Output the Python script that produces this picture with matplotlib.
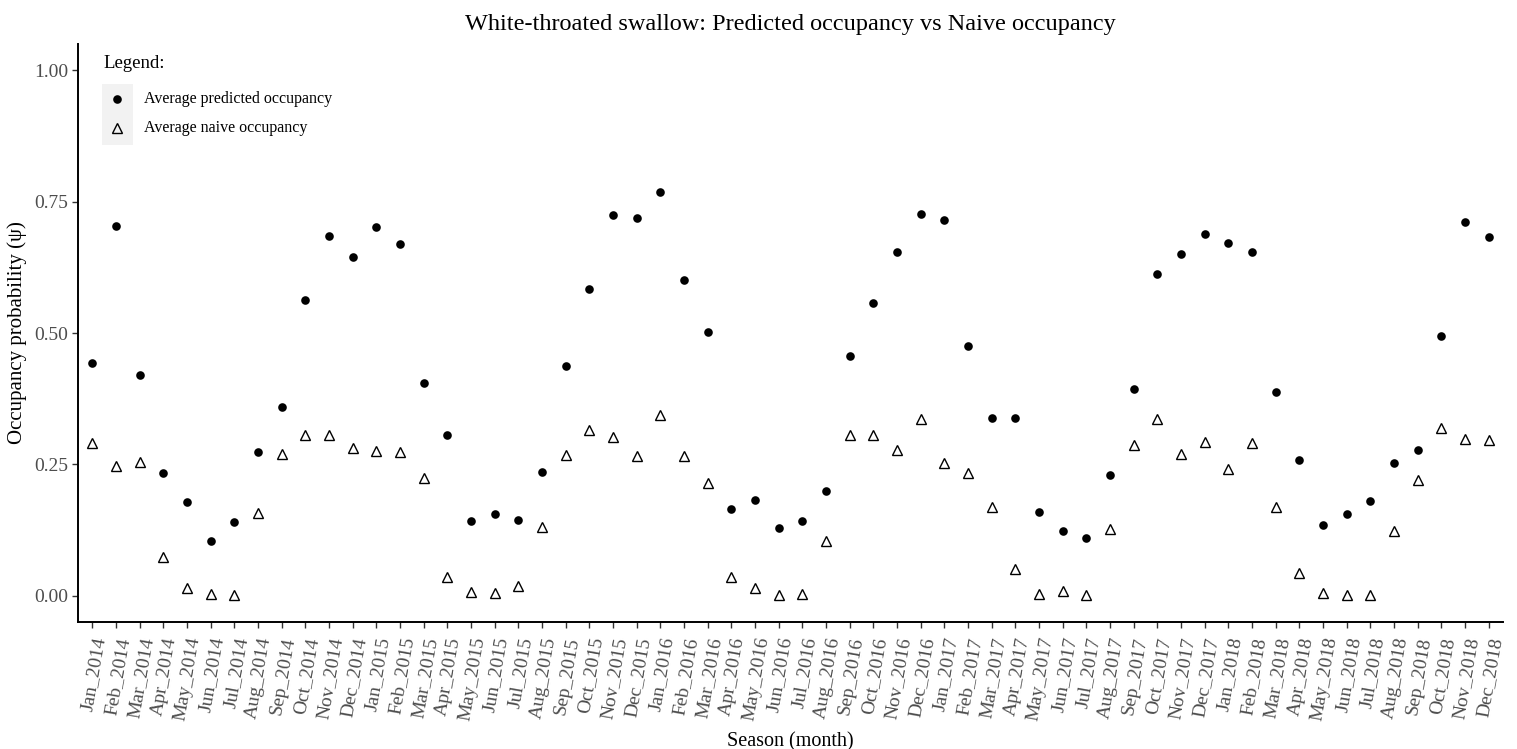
import numpy as np
import matplotlib
matplotlib.use("Agg")
import matplotlib.pyplot as plt
from matplotlib.lines import Line2D
from matplotlib.patches import Rectangle

plt.rcParams['font.family'] = ['Liberation Serif', 'DejaVu Serif']

# months Jan 2014 .. Dec 2018
month_names = ['Jan', 'Feb', 'Mar', 'Apr', 'May', 'Jun',
               'Jul', 'Aug', 'Sep', 'Oct', 'Nov', 'Dec']
years = [2014, 2015, 2016, 2017, 2018]
seasons = [f'{m}_{y}' for y in years for m in month_names]

# average predicted occupancy per month
predicted = [
    0.443, 0.703, 0.420, 0.233, 0.179, 0.104, 0.140, 0.274, 0.359, 0.562, 0.684, 0.644,
    0.701, 0.669, 0.404, 0.305, 0.142, 0.155, 0.144, 0.236, 0.437, 0.583, 0.724, 0.718,
    0.768, 0.600, 0.501, 0.166, 0.183, 0.129, 0.143, 0.200, 0.457, 0.557, 0.654, 0.727,
    0.715, 0.475, 0.338, 0.339, 0.159, 0.123, 0.110, 0.229, 0.393, 0.613, 0.651, 0.689,
    0.672, 0.654, 0.387, 0.258, 0.134, 0.156, 0.181, 0.253, 0.278, 0.495, 0.712, 0.682,
]

# average naive occupancy per month
naive = [
    0.291, 0.246, 0.255, 0.073, 0.014, 0.003, 0.002, 0.157, 0.270, 0.305, 0.305, 0.281,
    0.275, 0.274, 0.225, 0.036, 0.008, 0.006, 0.018, 0.131, 0.268, 0.316, 0.302, 0.265,
    0.343, 0.265, 0.214, 0.035, 0.015, 0.002, 0.003, 0.104, 0.305, 0.305, 0.277, 0.336,
    0.253, 0.233, 0.168, 0.050, 0.004, 0.009, 0.002, 0.127, 0.287, 0.337, 0.270, 0.293,
    0.241, 0.290, 0.169, 0.044, 0.006, 0.002, 0.002, 0.123, 0.221, 0.319, 0.298, 0.296,
]

legend_labels = ['Average predicted occupancy', 'Average naive occupancy']

W, H = 1517, 749
fig = plt.figure(figsize=(W / 100, H / 100), dpi=100)
ax = fig.add_axes([78 / W, 1 - 622 / H, (1503 - 78) / W, (622 - 44) / H])

x = np.arange(len(seasons))
ax.plot(x, predicted, linestyle='none', marker='o', markersize=6.2,
        color='black', markeredgewidth=0)
ax.plot(x, naive, linestyle='none', marker='^', markersize=7.5,
        markerfacecolor='none', markeredgecolor='black', markeredgewidth=1.0)

ax.set_xlim(-0.6, len(seasons) - 0.4)
ax.set_ylim(-0.05, 1.05)
ax.set_yticks([0, 0.25, 0.5, 0.75, 1.0])
ax.set_yticklabels(['0.00', '0.25', '0.50', '0.75', '1.00'])
ax.set_xticks(x)
ax.set_xticklabels(seasons, rotation=80, ha='right', va='top',
                   rotation_mode='anchor')

for side in ['top', 'right']:
    ax.spines[side].set_visible(False)
for side in ['left', 'bottom']:
    ax.spines[side].set_linewidth(1.4)
    ax.spines[side].set_color('black')

ax.tick_params(axis='both', length=4, width=1.0, color='#333333',
               labelcolor='#4D4D4D', labelsize=14, pad=3)
ax.tick_params(axis='x', pad=6)

ax.set_xlabel('Season (month)', fontsize=14.5, labelpad=7)
ax.set_ylabel('Occupancy probability (ψ)', fontsize=15, labelpad=5)
ax.set_title('White-throated swallow: Predicted occupancy vs Naive occupancy',
             fontsize=17.5, pad=10)

# legend drawn in figure pixel coordinates
px = lambda u, v: (u / W, 1 - v / H)
fig.text(*px(103, 64), 'Legend:', fontsize=13.5, ha='left', va='center')
fig.add_artist(Rectangle(px(102, 145), 31 / W, 61 / H,
                         facecolor='#F2F2F2', edgecolor='none',
                         transform=fig.transFigure))
fig.add_artist(Line2D([117 / W], [1 - 99 / H], marker='o', markersize=6.2,
                      color='black', markeredgewidth=0, linestyle='none',
                      transform=fig.transFigure))
fig.add_artist(Line2D([117 / W], [1 - 128 / H], marker='^', markersize=7.5,
                      markerfacecolor='none', markeredgecolor='black',
                      markeredgewidth=1.0, linestyle='none',
                      transform=fig.transFigure))
for lab, yy in zip(legend_labels, [99, 128]):
    fig.text(*px(144, yy), lab, fontsize=11.5, ha='left', va='center')

fig.savefig('out.png', dpi=100)
